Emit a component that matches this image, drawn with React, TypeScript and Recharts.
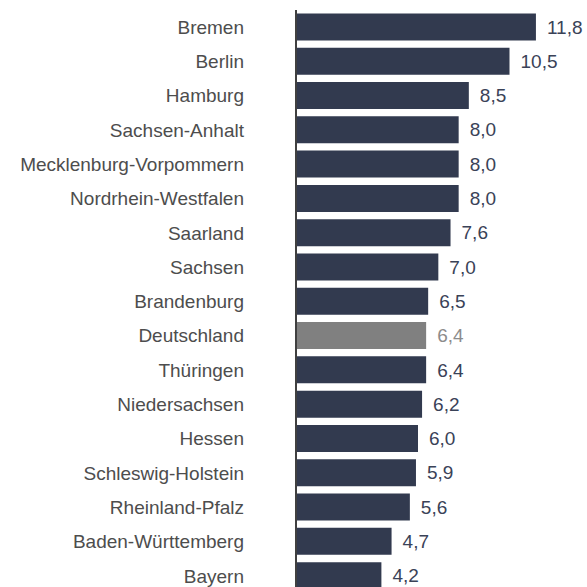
import { BarChart, Bar, XAxis, YAxis, Cell, LabelList } from "recharts";

const laender = [
  "Bremen",
  "Berlin",
  "Hamburg",
  "Sachsen-Anhalt",
  "Mecklenburg-Vorpommern",
  "Nordrhein-Westfalen",
  "Saarland",
  "Sachsen",
  "Brandenburg",
  "Deutschland",
  "Thüringen",
  "Niedersachsen",
  "Hessen",
  "Schleswig-Holstein",
  "Rheinland-Pfalz",
  "Baden-Württemberg",
  "Bayern",
];

const quoten = [11.8, 10.5, 8.5, 8.0, 8.0, 8.0, 7.6, 7.0, 6.5, 6.4, 6.4, 6.2, 6.0, 5.9, 5.6, 4.7, 4.2];

const highlight = "Deutschland";

const data = laender.map((name, i) => ({ name, value: quoten[i] }));

const NAVY = "#323a4f";
const GREY = "#808080";
const FONT = "'Liberation Sans', Arial, sans-serif";

const fmt = (v: number) => v.toFixed(1).replace(".", ",");

const CategoryTick = (props: any) => {
  const { x, y, payload } = props;
  return (
    <text
      x={x - 44}
      y={y}
      dy="0.35em"
      textAnchor="end"
      fill="#4d4d4d"
      fontSize={19}
      fontFamily={FONT}
    >
      {payload.value}
    </text>
  );
};

const ValueLabel = (props: any) => {
  const { x, y, width, height, value, index } = props;
  const isDe = laender[index] === highlight;
  return (
    <text
      x={x + width + 11}
      y={y + height / 2}
      dy="0.35em"
      fill={isDe ? "#8c8c8c" : "#3a4257"}
      fontSize={19}
      fontFamily={FONT}
    >
      {fmt(value)}
    </text>
  );
};

export default function App() {
  return (
    <div
      style={{
        position: "fixed",
        top: 0,
        left: 0,
        width: 587,
        height: 587,
        overflow: "hidden",
        background: "#fff",
      }}
    >
      <BarChart
        width={587}
        height={593}
        data={data}
        layout="vertical"
        margin={{ top: 10, right: 47, bottom: 0, left: 0 }}
        barCategoryGap="10%"
      >
        <XAxis type="number" domain={[0, 12]} hide />
        <YAxis
          type="category"
          dataKey="name"
          width={296}
          tickLine={false}
          axisLine={{ stroke: "#404040", strokeWidth: 2 }}
          tick={<CategoryTick />}
          interval={0}
        />
        <Bar dataKey="value" isAnimationActive={false}>
          {data.map((d) => (
            <Cell key={d.name} fill={d.name === highlight ? GREY : NAVY} />
          ))}
          <LabelList dataKey="value" content={<ValueLabel />} />
        </Bar>
      </BarChart>
    </div>
  );
}
